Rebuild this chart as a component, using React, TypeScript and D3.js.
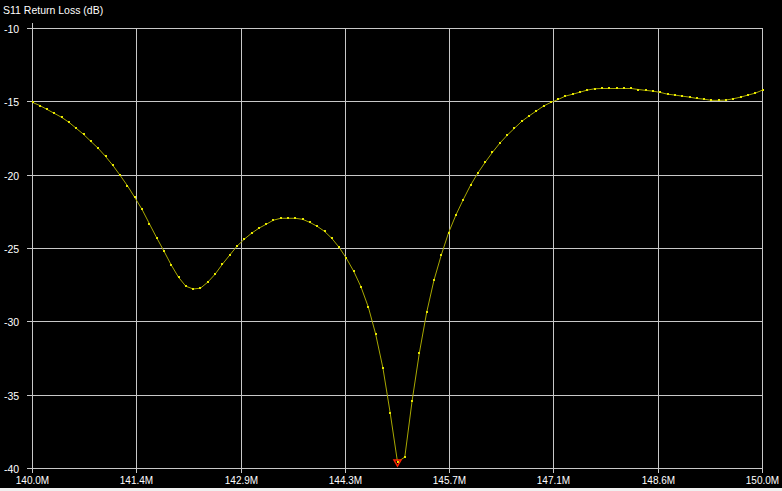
import React from "react";
import * as d3 from "d3";

const freqStartMHz = 140.0;
const freqStepMHz = 0.1;
const returnLossDb = [
  -15.04, -15.25, -15.52, -15.79, -16.06, -16.4, -16.81, -17.22, -17.7, -18.17,
  -18.72, -19.33, -20.01, -20.72, -21.51, -22.33, -23.3, -24.26, -25.17, -26.12,
  -26.96, -27.57, -27.76, -27.71, -27.3, -26.76, -26.08, -25.46, -24.85, -24.37,
  -23.96, -23.62, -23.35, -23.07, -22.94, -22.94, -22.94, -23.01, -23.22, -23.49,
  -23.83, -24.31, -24.92, -25.67, -26.55, -27.62, -28.99, -30.82, -33.14, -36.21,
  -39.56, -39.22, -35.39, -32.1, -29.35, -27.15, -25.44, -23.92, -22.72, -21.67,
  -20.69, -19.86, -19.13, -18.45, -17.83, -17.29, -16.81, -16.34, -15.97, -15.63,
  -15.29, -15.04, -14.84, -14.61, -14.48, -14.34, -14.2, -14.11, -14.09, -14.09,
  -14.09, -14.09, -14.09, -14.16, -14.22, -14.27, -14.36, -14.48, -14.54, -14.61,
  -14.68, -14.77, -14.82, -14.9, -14.9, -14.88, -14.79, -14.68, -14.54, -14.41,
  -14.2,
];
const xTickValues = [140, 140 + 10 / 7, 140 + 20 / 7, 140 + 30 / 7, 140 + 40 / 7, 140 + 50 / 7, 140 + 60 / 7, 150];
const xTickLabels = ["140.0M", "141.4M", "142.9M", "144.3M", "145.7M", "147.1M", "148.6M", "150.0M"];
const yTickValues = [-10, -15, -20, -25, -30, -35, -40];
const yTickLabels = ["-10", "-15", "-20", "-25", "-30", "-35", "-40"];
const chartTitle = "S11 Return Loss (dB)";

export default function App() {
  const W = 782;
  const H = 491;
  const x = d3.scaleLinear().domain([140, 150]).range([32.5, 762.5]);
  const y = d3.scaleLinear().domain([-10, -40]).range([28.5, 468.5]);
  const pts = returnLossDb.map((v, i) => ({ f: freqStartMHz + i * freqStepMHz, v }));
  const line = d3
    .line<{ f: number; v: number }>()
    .x((d) => x(d.f))
    .y((d) => y(d.v));
  const minIdx = d3.minIndex(pts, (d) => d.v);
  const mp = pts[minIdx];
  const mx = x(mp.f);
  const my = y(mp.v);
  const snap = (p: number) => Math.floor(p) + 0.5;
  const grid = "#c8c8c8";
  const font = "'Liberation Sans', Arial, sans-serif";
  return (
    <svg
      width={W}
      height={H}
      style={{ position: "absolute", left: 0, top: 0, display: "block" }}
    >
      <rect x={0} y={0} width={W} height={H} fill="#f0f0f0" />
      <rect x={0} y={0} width={W} height={488} fill="#000" />
      <text x={3} y={14} fill="#fff" fontFamily={font} fontSize={10.5}>
        {chartTitle}
      </text>
      {yTickValues.map((t, i) => (
        <g key={"y" + i}>
          <line x1={27} x2={763} y1={snap(y(t))} y2={snap(y(t))} stroke={grid} strokeWidth={1} />
          <text x={4} y={snap(y(t)) + 4} fill="#fff" fontFamily={font} fontSize={10.5}>
            {yTickLabels[i]}
          </text>
        </g>
      ))}
      {xTickValues.map((t, i) => (
        <g key={"x" + i}>
          <line
            x1={snap(x(t))}
            x2={snap(x(t))}
            y1={i === 0 ? 23 : snap(y(-10))}
            y2={473}
            stroke={grid}
            strokeWidth={1}
          />
          <text
            x={snap(x(t))}
            y={484}
            fill="#fff"
            fontFamily={font}
            fontSize={10}
            textAnchor="middle"
          >
            {xTickLabels[i]}
          </text>
        </g>
      ))}
      <path d={line(pts) || ""} fill="none" stroke="#a8a800" strokeWidth={1} />
      {pts.map((d, i) => (
        <rect
          key={"p" + i}
          x={Math.round(x(d.f)) - 1}
          y={Math.round(y(d.v)) - 1}
          width={2}
          height={2}
          fill="#e8e800"
        />
      ))}
      <polygon
        points={`${mx - 3.5},${my - 2} ${mx + 3.5},${my - 2} ${mx},${my + 4}`}
        fill="none"
        stroke="#ff2000"
        strokeWidth={1.5}
      />
    </svg>
  );
}
